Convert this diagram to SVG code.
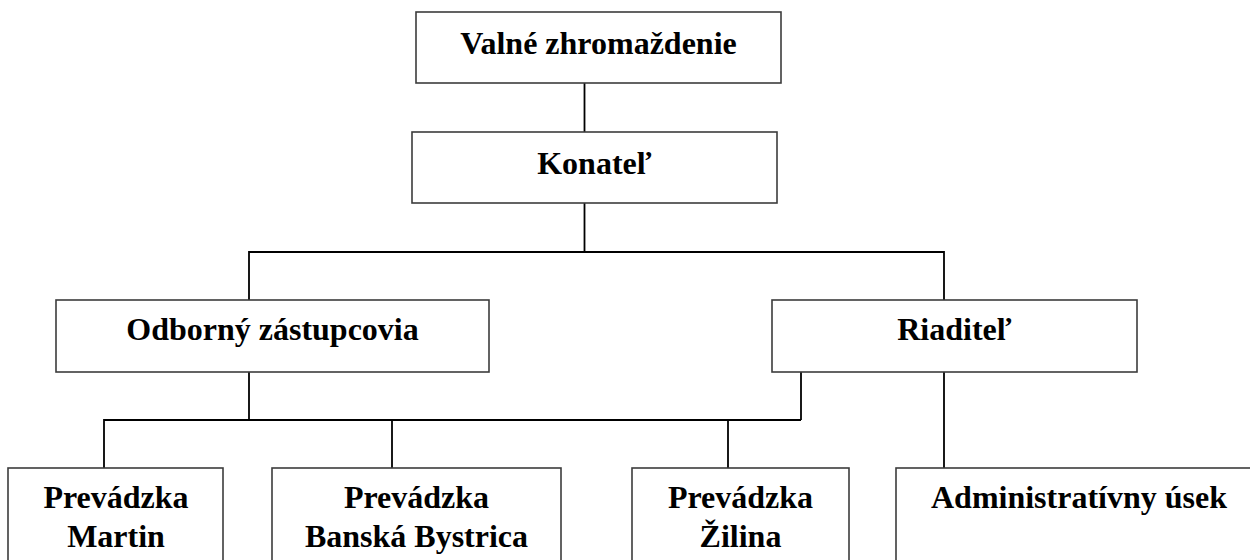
<svg xmlns="http://www.w3.org/2000/svg" width="1250" height="560" viewBox="0 0 1250 560">
<style>
.box{fill:#fff;stroke:#3c3c3c;stroke-width:1.6}
.t{font-family:"Liberation Serif","Times New Roman",serif;font-weight:bold;font-size:32px;fill:#000;text-anchor:middle}
.c{fill:none;stroke:#000;stroke-width:1.8}
</style>
<rect width="1250" height="560" fill="#fff"/>
<g id="connectors">
<path class="c" d="M584.5 83V132"/>
<path class="c" d="M584.5 203V252"/>
<path class="c" d="M249 300V252H944V300"/>
<path class="c" d="M249 372V420"/>
<path class="c" d="M801 372V420"/>
<path class="c" d="M104 468V420H801"/>
<path class="c" d="M392 420V468"/>
<path class="c" d="M728 420V468"/>
<path class="c" d="M944 372V468"/>
</g>
<g id="valne"><rect class="box" x="416" y="12" width="365" height="71"/><text class="t" x="598.5" y="54">Valné zhromaždenie</text></g>
<g id="konatel"><rect class="box" x="412" y="132" width="365" height="71"/><text class="t" x="594.5" y="174">Konateľ</text></g>
<g id="odborny"><rect class="box" x="56" y="300" width="433" height="72"/><text class="t" x="272.5" y="340">Odborný zástupcovia</text></g>
<g id="riaditel"><rect class="box" x="772" y="300" width="365" height="72"/><text class="t" x="954.5" y="340">Riaditeľ</text></g>
<g id="martin"><rect class="box" x="8" y="468" width="215" height="130"/><text class="t" x="116" y="508">Prevádzka</text><text class="t" x="116" y="547">Martin</text></g>
<g id="banska"><rect class="box" x="272" y="468" width="289" height="130"/><text class="t" x="416.5" y="508">Prevádzka</text><text class="t" x="416.5" y="547">Banská Bystrica</text></g>
<g id="zilina"><rect class="box" x="632" y="468" width="217" height="130"/><text class="t" x="740.5" y="508">Prevádzka</text><text class="t" x="740.5" y="547">Žilina</text></g>
<g id="admin"><rect class="box" x="896" y="468" width="370" height="130"/><text class="t" x="1079" y="508">Administratívny úsek</text></g>
</svg>
